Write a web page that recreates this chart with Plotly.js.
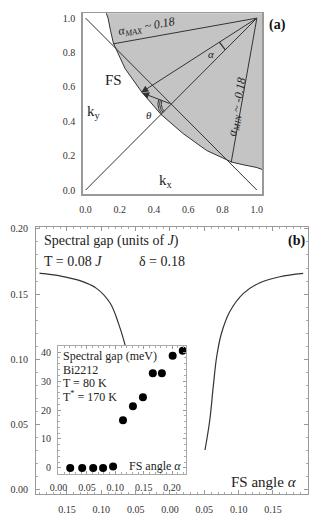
<!DOCTYPE html>
<html>
<head>
<meta charset="utf-8">
<script src="https://cdn.plot.ly/plotly-3.0.1.min.js"></script>
<style>
  html, body { margin: 0; padding: 0; background: #fff; }
  #chart { width: 322px; height: 517px; }
</style>
</head>
<body>
<div id="chart"></div>
<script>
// (a) Fermi surface sketch, k in units of pi
const fsKx = [0.12, 0.131, 0.145, 0.162, 0.23, 0.328, 0.44, 0.57, 0.707, 0.855, 0.93, 1.0, 1.03];
const fsKy = [1.03, 1.0, 0.93, 0.855, 0.707, 0.57, 0.44, 0.328, 0.23, 0.162, 0.145, 0.131, 0.12];
const diagKx = [0, 1], diagKy = [0, 1];
const antiKx = [0, 1], antiKy = [1, 0];
const aMaxKx = [1, 0.16], aMaxKy = [1, 0.85];
const aMinKx = [1, 0.85], aMinKy = [1, 0.16];
const longArrow = [1, 1, 0.325, 0.568];   // from x,y to x,y
const shortArrow = [0.5, 0.5, 0.33, 0.565];

// (b) spectral gap (units of J) vs FS angle alpha
const leftAlpha = [-0.19, -0.187, -0.160, -0.131, -0.107, -0.087, -0.075, -0.066, -0.065];
const leftGap = [0.1661, 0.1659, 0.1639, 0.1603, 0.1544, 0.143, 0.1276, 0.1123, 0.110];
const rightAlpha = [0.051, 0.058, 0.063, 0.068, 0.075, 0.087, 0.107, 0.131, 0.160, 0.194];
const rightGap = [0.0306, 0.0536, 0.0791, 0.102, 0.120, 0.1365, 0.1506, 0.1587, 0.1633, 0.1659];
const bTickVals = [-0.15, -0.10, -0.05, 0, 0.05, 0.10, 0.15];
const bTickText = ["0.15", "0.10", "0.05", "0.00", "0.05", "0.10", "0.15"];

// inset: Bi2212 gap (meV)
const insetAlpha = [0.0205, 0.0416, 0.061, 0.0784, 0.096, 0.1135, 0.131, 0.1486, 0.166, 0.182, 0.201, 0.2188];
const insetGap = [0, 0, 0, 0, 0.5, 16.5, 21.3, 24.4, 32.7, 32.7, 38.7, 40.5];

const W = 322, H = 517;
const px = v => v / W;
const py = v => 1 - v / H;
const serif = "Liberation Serif, Times New Roman, serif";
const ink = "#333";

function arc(cx, cy, r, a0, a1) {
  const xs = [], ys = [];
  for (let i = 0; i <= 24; i++) {
    const a = a0 + (a1 - a0) * i / 24;
    xs.push(cx + r * Math.cos(a));
    ys.push(cy + r * Math.sin(a));
  }
  return [xs, ys];
}
const ang = (x0, y0, x1, y1) => Math.atan2(y1 - y0, x1 - x0);
const diagDown = Math.PI * 5 / 4;
const aLong = ang(longArrow[0], longArrow[1], longArrow[2], longArrow[3]) + 2 * Math.PI;
const aShort = ang(shortArrow[0], shortArrow[1], shortArrow[2], shortArrow[3]);

function seg(x, y, xa, ya, w) {
  return {x: x, y: y, xaxis: xa, yaxis: ya, mode: "lines", hoverinfo: "skip",
          line: {color: ink, width: w || 1}, showlegend: false};
}

const fillX = fsKx.concat([1.06, 1.06]);
const fillY = fsKy.concat([0.12, 1.06]);
fillX.push(0.12); fillY.push(1.06);

const alphaArc = arc(1, 1, 0.26, aLong, diagDown);
const data = [
  {x: fillX, y: fillY, xaxis: "x", yaxis: "y", mode: "lines", fill: "toself",
   fillcolor: "#c4c4c4", line: {width: 0}, hoverinfo: "skip", showlegend: false},
  seg(fsKx, fsKy, "x", "y", 1),
  seg(diagKx, diagKy, "x", "y"),
  seg(antiKx, antiKy, "x", "y"),
  seg(aMaxKx, aMaxKy, "x", "y"),
  seg(aMinKx, aMinKy, "x", "y"),
  seg(alphaArc[0], alphaArc[1], "x", "y", 1.3)
];
[0.058, 0.068, 0.078].forEach(r => {
  const t = arc(shortArrow[0], shortArrow[1], r, aShort, diagDown);
  data.push(seg(t[0], t[1], "x", "y", 1));
});
data.push(Object.assign(seg(leftAlpha, leftGap, "x2", "y2", 1.2), {line: {color: ink, width: 1.2, shape: "spline"}}));
data.push(Object.assign(seg(rightAlpha, rightGap, "x2", "y2", 1.2), {line: {color: ink, width: 1.2, shape: "spline"}}));
data.push({x: insetAlpha, y: insetGap, xaxis: "x3", yaxis: "y3", mode: "markers",
           marker: {color: "#000", size: 8}, hoverinfo: "skip", showlegend: false});

const tickFont = {family: serif, size: 10, color: ink};
const frame = {showline: true, mirror: true, linecolor: "#999", linewidth: 1,
               zeroline: false, showgrid: false, tickfont: tickFont};

const layout = {
  width: W, height: H,
  margin: {l: 0, r: 0, t: 0, b: 0},
  paper_bgcolor: "#fff", plot_bgcolor: "#fff",
  showlegend: false,
  xaxis: Object.assign({}, frame, {domain: [px(82.7), px(262)], range: [-0.017, 1.03],
    tickvals: [0, 0.2, 0.4, 0.6, 0.8, 1.0], tickformat: ".1f", ticks: "", linewidth: 1.5,
    ticklabelstandoff: 5, anchor: "y"}),
  yaxis: Object.assign({}, frame, {domain: [py(194), py(13.3)], range: [-0.023, 1.028],
    tickvals: [0, 0.2, 0.4, 0.6, 0.8, 1.0], tickformat: ".1f", ticks: "", linewidth: 1.5,
    ticklabelstandoff: 4, anchor: "x"}),
  xaxis2: Object.assign({}, frame, {domain: [px(36), px(308)], range: [-0.1951, 0.201],
    tickmode: "array", tickvals: bTickVals, ticktext: bTickText,
    ticks: "inside", ticklen: 4, tickcolor: "#999", mirror: "allticks",
    minor: {tickmode: "linear", tick0: 0, dtick: 0.01, ticks: "inside", ticklen: 2, tickcolor: "#aaa"},
    ticklabelstandoff: 6, anchor: "y2"}),
  yaxis2: Object.assign({}, frame, {domain: [py(494), py(227)], range: [-0.0031, 0.2014],
    tick0: 0, dtick: 0.05, tickformat: ".2f",
    ticks: "inside", ticklen: 4, tickcolor: "#999", mirror: "allticks",
    minor: {dtick: 0.01, ticks: "inside", ticklen: 2, tickcolor: "#aaa"},
    ticklabelstandoff: 5, anchor: "x2"}),
  xaxis3: Object.assign({}, frame, {domain: [px(58), px(186)], range: [-0.001, 0.2245],
    tick0: 0, dtick: 0.05, tickformat: ".2f", linecolor: "#aaa",
    ticks: "inside", ticklen: 3, tickcolor: "#999", mirror: "allticks",
    minor: {dtick: 0.01, ticks: "inside", ticklen: 2, tickcolor: "#aaa"},
    ticklabelstandoff: 4, anchor: "y3"}),
  yaxis3: Object.assign({}, frame, {domain: [py(474), py(346)], range: [-2.1, 42.1],
    tick0: 0, dtick: 10, linecolor: "#aaa",
    ticks: "inside", ticklen: 3, tickcolor: "#999", mirror: "allticks",
    minor: {dtick: 2, ticks: "inside", ticklen: 2, tickcolor: "#aaa"},
    ticklabelstandoff: 4, anchor: "x3"}),
  annotations: []
};

function note(text, x, y, opts) {
  layout.annotations.push(Object.assign({
    text: text, x: x, y: y, xref: "paper", yref: "paper", showarrow: false,
    xanchor: "left", yanchor: "middle", font: {family: serif, size: 14, color: "#222"}
  }, opts || {}));
}
function dnote(text, x, y, size, opts) {
  note(text, x, y, Object.assign({xref: "x", yref: "y", xanchor: "center",
    font: {family: serif, size: size, color: "#222"}}, opts || {}));
}

// arrows in (a)
[longArrow, shortArrow].forEach(a => {
  layout.annotations.push({x: a[2], y: a[3], ax: a[0], ay: a[1], xref: "x", yref: "y",
    axref: "x", ayref: "y", text: "", showarrow: true, arrowhead: 2, arrowsize: 1.4,
    arrowwidth: 1, arrowcolor: ink, standoff: 0, startstandoff: 0});
});

// (a) labels
dnote("<i>α<sub>MAX</sub> ~ 0.18</i>", 0.355, 0.95, 12, {textangle: -10});
dnote("<i>α<sub>MIN</sub> ~ -0.18</i>", 0.884, 0.48, 12, {textangle: -80});
dnote("<i>α</i>", 0.735, 0.79, 11);
dnote("FS", 0.165, 0.64, 15);
dnote("k<sub>y</sub>", 0.05, 0.455, 15);
dnote("k<sub>x</sub>", 0.47, 0.055, 15);
dnote("<i>θ</i>", 0.37, 0.435, 11);
note("<b>(a)</b>", px(277), py(25), {xanchor: "center", font: {family: serif, size: 14, color: "#111"}});

// (b) labels
note("Spectral gap (units of <i>J</i>)", px(42), py(241));
note("T = 0.08 <i>J</i>", px(42), py(261));
note("δ = 0.18", px(137), py(261));
note("<b>(b)</b>", px(296), py(241), {xanchor: "center", font: {family: serif, size: 14, color: "#111"}});
note("FS angle <i>α</i>", px(229), py(482), {font: {family: serif, size: 15, color: "#222"}});

// inset labels
const insetFont = {family: serif, size: 12, color: "#222"};
note("Spectral gap (meV)", px(61), py(356), {font: insetFont});
note("Bi2212", px(61), py(370), {font: insetFont});
note("T = 80 K", px(61), py(383), {font: insetFont});
note("T<sup>*</sup> = 170 K", px(61), py(396), {font: insetFont});
note("FS angle <i>α</i>", px(127), py(466), {font: insetFont});

Plotly.newPlot("chart", data, layout, {staticPlot: true, displayModeBar: false});
</script>
</body>
</html>
